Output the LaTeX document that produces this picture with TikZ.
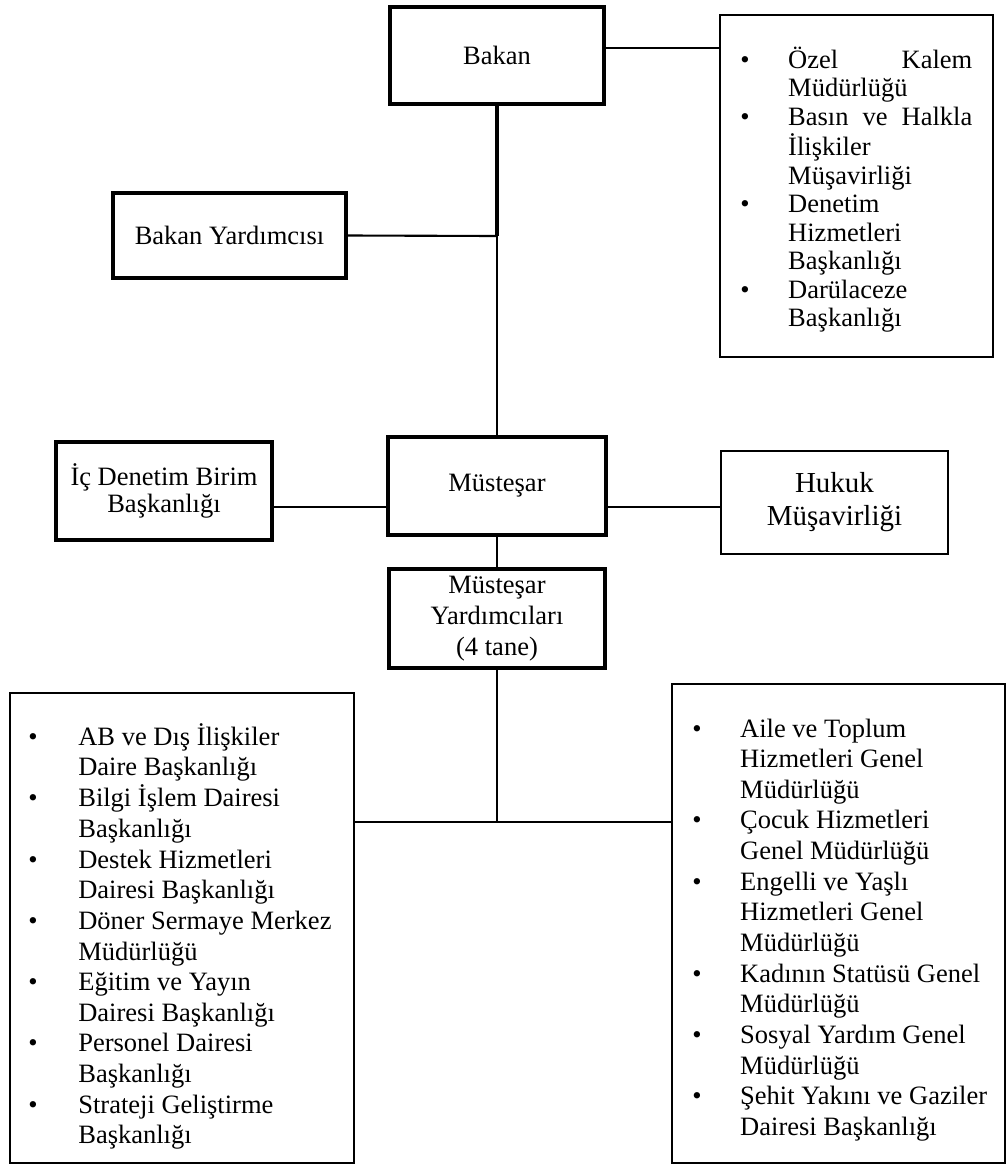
\documentclass[tikz,border=0pt]{standalone}
\usepackage{fontspec}
\setmainfont{Liberation Serif}
\usepackage{array}
\usetikzlibrary{calc}

\newcommand{\boxfont}{\fontsize{18.85pt}{19.2pt}\selectfont}
\newcommand{\listfont}{\fontsize{18.85pt}{21.8pt}\selectfont}

\tikzset{
  unitbox/.style={draw, line width=2.5pt, align=center, inner sep=0pt, font=\boxfont},
  thinbox/.style={draw, line width=1.1pt, align=center, inner sep=0pt},
  listbox/.style={draw, line width=1.1pt, inner sep=0pt},
  listtext/.style={anchor=base west, inner sep=0pt, font=\listfont},
  conn/.style={line width=1.5pt}
}

\begin{document}
\begin{tikzpicture}[x=0.025cm, y=-0.025cm]

\useasboundingbox (0,0) rectangle (1007,1165);

% upper part
\node[unitbox, minimum width=5.35cm, minimum height=2.425cm] (bakan) at (497,55.5) {Bakan};
\node[unitbox, minimum width=5.825cm, minimum height=2.125cm] (yard) at (229.5,235.5) {Bakan Yardımcısı};
\node[listbox, minimum width=6.825cm, minimum height=8.55cm] (ozel) at (856.5,186) {};
\node[listtext, font=\fontsize{18.85pt}{20.3pt}\selectfont] (ozeltext) at (740,68) {%
\begin{tabular}[t]{@{}p{34.1pt}@{}p{130.9pt}@{}}
\textbullet & Özel\hfill Kalem\\
 & Müdürlüğü\\
\textbullet & Basın\hfill ve\hfill Halkla\\
 & İlişkiler\\
 & Müşavirliği\\
\textbullet & Denetim\\
 & Hizmetleri\\
 & Başkanlığı\\
\textbullet & Darülaceze\\
 & Başkanlığı
\end{tabular}};

% middle part
\node[unitbox, minimum width=5.45cm, minimum height=2.45cm] (mustesar) at (497,486) {Müsteşar};
\node[unitbox, minimum width=5.4cm, minimum height=2.45cm] (icdenetim) at (164,491) {İç Denetim Birim\\Başkanlığı};
\node[thinbox, minimum width=5.675cm, minimum height=2.575cm, font=\fontsize{20.6pt}{23.5pt}\selectfont] (hukuk) at (834.5,502.5) {Hukuk\\Müşavirliği};
\node[unitbox, minimum width=5.4cm, minimum height=2.475cm, font=\fontsize{18.85pt}{22pt}\selectfont] (myard) at (497,618.5) {Müsteşar\\Yardımcıları\\(4 tane)};

% lower part
\node[listbox, minimum width=8.6cm, minimum height=11.75cm] (leftlist) at (182,928) {};
\node[listtext] (lefttext) at (28,745) {%
\begin{tabular}[t]{@{}p{35.6pt}@{}l@{}}
\textbullet & AB ve Dış İlişkiler\\
 & Daire Başkanlığı\\
\textbullet & Bilgi İşlem Dairesi\\
 & Başkanlığı\\
\textbullet & Destek Hizmetleri\\
 & Dairesi Başkanlığı\\
\textbullet & Döner Sermaye Merkez\\
 & Müdürlüğü\\
\textbullet & Eğitim ve Yayın\\
 & Dairesi Başkanlığı\\
\textbullet & Personel Dairesi\\
 & Başkanlığı\\
\textbullet & Strateji Geliştirme\\
 & Başkanlığı
\end{tabular}};

\node[listbox, minimum width=8.325cm, minimum height=11.975cm] (rightlist) at (838.5,923.5) {};
\node[listtext] (righttext) at (692,737) {%
\begin{tabular}[t]{@{}p{34.1pt}@{}l@{}}
\textbullet & Aile ve Toplum\\
 & Hizmetleri Genel\\
 & Müdürlüğü\\
\textbullet & Çocuk Hizmetleri\\
 & Genel Müdürlüğü\\
\textbullet & Engelli ve Yaşlı\\
 & Hizmetleri Genel\\
 & Müdürlüğü\\
\textbullet & Kadının Statüsü Genel\\
 & Müdürlüğü\\
\textbullet & Sosyal Yardım Genel\\
 & Müdürlüğü\\
\textbullet & Şehit Yakını ve Gaziler\\
 & Dairesi Başkanlığı
\end{tabular}};

% connectors
\coordinate (bline) at (497,48);
\coordinate (yline) at (497,236);
\coordinate (hline) at (497,507);
\coordinate (split) at (497,822);

\draw[line width=2.3pt] (bakan.south) -- (yline);
\draw[conn] (yline) -- (mustesar.north);
\draw[conn] (yard.east) -- (yline);
\draw[conn] (bakan.east |- bline) -- (ozel.west |- bline);
\draw[conn] (icdenetim.east |- hline) -- (mustesar.west |- hline);
\draw[conn] (mustesar.east |- hline) -- (hukuk.west |- hline);
\draw[conn] (mustesar.south) -- (myard.north);
\draw[conn] (myard.south) -- (split);
\draw[conn] (leftlist.east |- split) -- (rightlist.west |- split);

\end{tikzpicture}
\end{document}
